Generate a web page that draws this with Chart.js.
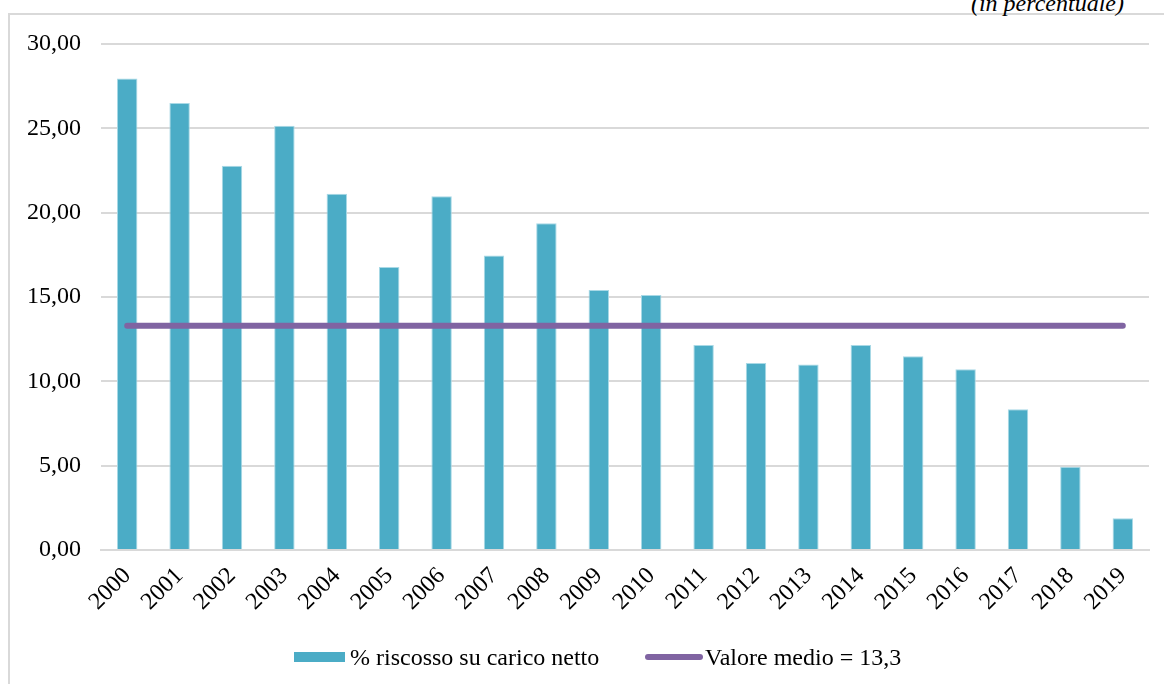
<!DOCTYPE html>
<html>
<head>
<meta charset="utf-8">
<script src="https://cdn.jsdelivr.net/npm/chart.js@4.4.1/dist/chart.umd.min.js"></script>
<style>
  html, body { margin: 0; padding: 0; background: #fff; }
  #wrap { position: relative; width: 1164px; height: 684px; overflow: hidden; }
  #frame { position: absolute; left: 8px; top: 13px; width: 1170px; height: 700px;
           border-top: 2px solid #d9d9d9; border-left: 2px solid #d9d9d9; box-sizing: border-box; }
  #note { position: absolute; right: 40px; top: -10px; font: italic 24px "Liberation Serif", "Times New Roman", serif; color: #000; }
  canvas { position: absolute; left: 0; top: 0; }
  .leg { position: absolute; top: 643px; height: 28px; font: 24px "Liberation Serif", "Times New Roman", serif; color: #000; line-height: 28px; white-space: nowrap; }
  .sw { position: absolute; }
</style>
</head>
<body>
<div id="wrap">
  <div id="frame"></div>
  <div id="note">(in percentuale)</div>
  <canvas id="c" width="1164" height="684"></canvas>
  <div id="legend"></div>
</div>
<script>
const categories = ['2000','2001','2002','2003','2004','2005','2006','2007','2008','2009',
                    '2010','2011','2012','2013','2014','2015','2016','2017','2018','2019'];
const riscosso = [27.96, 26.50, 22.78, 25.15, 21.12, 16.78, 20.97, 17.46, 19.37, 15.41,
                  15.12, 12.15, 11.08, 11.00, 12.15, 11.48, 10.71, 8.34, 4.94, 1.88];
const valoreMedio = 13.3;
const mediaSeries = categories.map(() => valoreMedio);
const yTicks = [0, 5, 10, 15, 20, 25, 30];
const seriesNames = ['% riscosso su carico netto', 'Valore medio = 13,3'];
const barColor = '#4BACC6';
const lineColor = '#8064A2';

const FONT = '"Liberation Serif", "Times New Roman", serif';

// HTML legend
const legend = document.getElementById('legend');
legend.innerHTML =
  '<div class="sw" style="left:294px;top:652px;width:51px;height:10px;background:' + barColor + '"></div>' +
  '<div class="leg" style="left:350px">' + seriesNames[0] + '</div>' +
  '<div class="sw" style="left:645px;top:654px;width:58px;height:6px;border-radius:3px;background:' + lineColor + '"></div>' +
  '<div class="leg" style="left:705px">' + seriesNames[1] + '</div>';

new Chart(document.getElementById('c'), {
  data: {
    labels: categories,
    datasets: [
      {
        type: 'line',
        label: seriesNames[1],
        data: mediaSeries,
        borderColor: lineColor,
        backgroundColor: lineColor,
        borderWidth: 6,
        borderCapStyle: 'round',
        pointRadius: 0,
        order: 0
      },
      {
        type: 'bar',
        label: seriesNames[0],
        data: riscosso,
        backgroundColor: barColor,
        borderColor: '#a9d9e6',
        borderWidth: 1,
        barPercentage: 0.39,
        categoryPercentage: 1,
        order: 1
      }
    ]
  },
  options: {
    responsive: false,
    animation: false,
    layout: { padding: { left: 0, right: 15, top: 44, bottom: 0 } },
    plugins: {
      tooltip: { enabled: false },
      legend: { display: false }
    },
    scales: {
      x: {
        grid: { display: false, drawTicks: false },
        border: { display: true, color: '#d9d9d9', width: 2 },
        ticks: {
          font: { family: FONT, size: 24 },
          color: '#000',
          maxRotation: 45,
          minRotation: 45,
          padding: 12,
          autoSkip: false
        },
        afterFit: (s) => { s.height = 134; }
      },
      y: {
        min: 0,
        max: 30,
        afterBuildTicks: (s) => { s.ticks = yTicks.map(v => ({ value: v })); },
        grid: { color: '#d9d9d9', lineWidth: 2, drawTicks: false },
        border: { display: false },
        ticks: {
          font: { family: FONT, size: 24 },
          color: '#000',
          padding: 20,
          callback: (v) => v.toFixed(2).replace('.', ',')
        },
        afterFit: (s) => { s.width = 101; }
      }
    }
  }
});
</script>
</body>
</html>
